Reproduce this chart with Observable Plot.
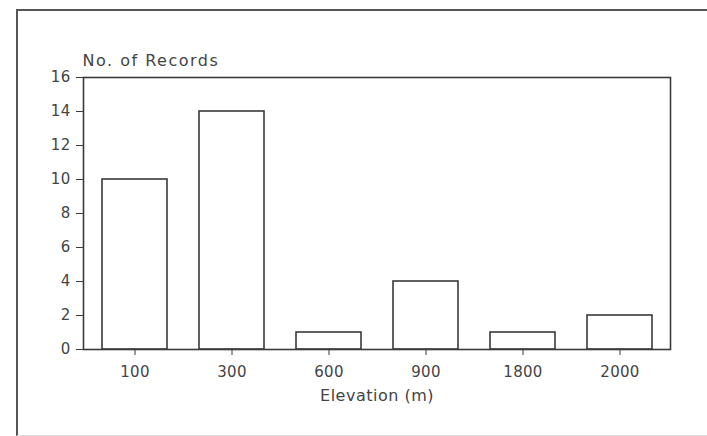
<!DOCTYPE html>
<html>
<head>
<meta charset="utf-8">
<script src="https://cdn.jsdelivr.net/npm/d3@7"></script>
<script src="https://cdn.jsdelivr.net/npm/@observablehq/plot@0.6"></script>
<style>
  html, body { margin: 0; padding: 0; background: #fff; }
  #wrap { position: relative; width: 707px; height: 436px; overflow: hidden; }
  #border { position: absolute; left: 16px; top: 9px; right: -5px; bottom: 0px;
            border-top: 2px solid #555; border-left: 2px solid #555; border-bottom: 1px solid #ddd; }
  #chart { position: absolute; left: 0; top: 0; }
  #chart svg text { font-family: 'DejaVu Sans', sans-serif; font-size: 15px !important; letter-spacing: 0.3px; }
  #chart svg .ylbl text { font-size: 16px !important; letter-spacing: 1.5px; }
  #chart svg .xlbl text { font-size: 16px !important; letter-spacing: 0.5px; }
</style>
</head>
<body>
<div id="wrap"><div id="border"></div><div id="chart"></div></div>
<script>
const categories = ["100", "300", "600", "900", "1800", "2000"];
const records = [10, 14, 1, 4, 1, 2];
const yTicks = [0, 2, 4, 6, 8, 10, 12, 14, 16];
const xLabel = "Elevation (m)";
const yLabel = "No. of Records";

const data = categories.map((c, i) => ({elevation: c, count: records[i]}));
const ink = "#3a3a3a";

const chart = Plot.plot({
  width: 707,
  height: 436,
  marginLeft: 83,
  marginRight: 37,
  marginTop: 77,
  marginBottom: 87,
  style: {fontFamily: "'DejaVu Sans', sans-serif", fontSize: "15px", color: "#444", background: "transparent"},
  x: {domain: categories, paddingInner: 0.33, paddingOuter: 0.165, align: 0.5, label: null},
  y: {domain: [0, 16], label: null},
  marks: [
    Plot.barY(data, {x: "elevation", y: "count", fill: "white", stroke: ink, strokeWidth: 1.6}),
    Plot.frame({stroke: ink, strokeWidth: 1.6}),
    Plot.axisY({ticks: yTicks, tickSize: 7, tickPadding: 6, label: null, stroke: ink, fill: "#444"}),
    Plot.axisX({tickSize: 6, tickPadding: 11, label: null, stroke: ink, fill: "#444"}),
    Plot.text([yLabel], {className: "ylbl", frameAnchor: "top-left", dy: -12, dx: -1, lineAnchor: "bottom", textAnchor: "start", fontSize: 16, fill: "#444"}),
    Plot.text([xLabel], {className: "xlbl", frameAnchor: "bottom", dy: 51, lineAnchor: "bottom", textAnchor: "middle", fontSize: 16, fill: "#444"})
  ]
});
document.getElementById("chart").appendChild(chart);
</script>
</body>
</html>
